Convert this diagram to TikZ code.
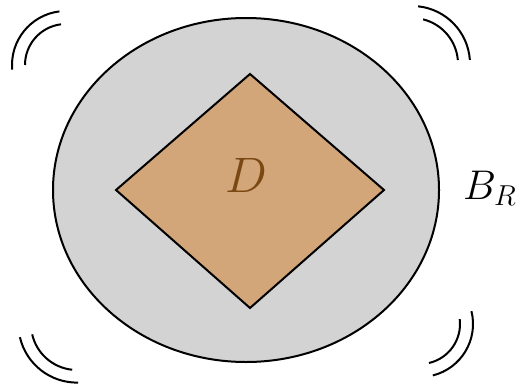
\documentclass[tikz,border=0pt]{standalone}
\definecolor{dlabel}{RGB}{122,72,18}
\begin{document}
\begin{tikzpicture}[x=0.5pt,y=0.5pt,
  outline/.style={draw=black,line width=1pt},
  wave/.style={draw=black,line width=1pt},
  diskfill/.style={fill={rgb,255:red,211;green,211;blue,211}},
  domainfill/.style={fill=brown!70!white}]
\useasboundingbox (0,0) rectangle (517,386);
% disk B_R
\path[outline,diskfill] (246,196) ellipse [x radius=193, y radius=172];
% domain D
\path[outline,domainfill] (116,196) -- (250,312) -- (384,196) -- (250,78) -- cycle;
\node (D) at (246,211) {\fontsize{25.6}{30}\selectfont\color{dlabel}$D$};
\node (BR) at (490,198) {\fontsize{20.5}{24}\selectfont$B_R$};
% corner arcs
\coordinate (tl) at (66,321);
\coordinate (tr) at (412,322);
\coordinate (bl) at (77,62);
\coordinate (br) at (420,62);
\draw[wave] ([shift={(97:54)}]tl) arc[start angle=97,end angle=185,radius=54];
\draw[wave] ([shift={(97:41)}]tl) arc[start angle=97,end angle=180,radius=41];
\draw[wave] ([shift={(4:58)}]tr) arc[start angle=4,end angle=84,radius=58];
\draw[wave] ([shift={(5:46)}]tr) arc[start angle=5,end angle=76,radius=46];
\draw[wave] ([shift={(193:58.6)}]bl) arc[start angle=193,end angle=271,radius=58.6];
\draw[wave] ([shift={(193:46)}]bl) arc[start angle=193,end angle=264,radius=46];
\draw[wave] ([shift={(-76:53)}]br) arc[start angle=-76,end angle=14,radius=53];
\draw[wave] ([shift={(-77:40)}]br) arc[start angle=-77,end angle=7,radius=40];
\end{tikzpicture}
\end{document}
